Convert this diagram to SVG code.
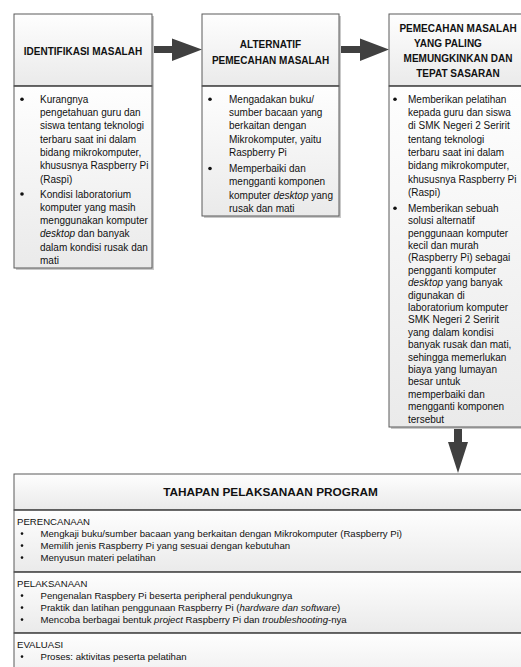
<svg xmlns="http://www.w3.org/2000/svg" width="521" height="667" viewBox="0 0 521 667">
<defs>
<linearGradient id="g" x1="0" y1="0" x2="0" y2="1">
<stop offset="0" stop-color="#fefefe"/>
<stop offset="1" stop-color="#eaeaea"/>
</linearGradient>
<style>
.sh{fill:#c9c9c9}
.bx{fill:url(#g);stroke:#5a5a5a;stroke-width:1}
.dv{stroke:#555;stroke-width:1.5}
.hd{font-family:"Liberation Sans",Arial,sans-serif;font-weight:bold;font-size:10px;fill:#111;text-anchor:middle}
.tx{font-family:"Liberation Sans",Arial,sans-serif;font-size:10px;fill:#111}
.st{font-family:"Liberation Sans",Arial,sans-serif;font-size:9.6px;fill:#111}
.it{font-style:italic}
.bl{fill:#111}
.ar{fill:#404040}
</style>
</defs>
<rect width="521" height="667" fill="#fff"/>

<g id="connectors">
<polygon class="ar" points="152,46 172,46 172,38.5 202,49.5 172,61 172,53 152,53"/>
<polygon class="ar" points="339,46 360,46 360,38.5 389,49.5 360,61 360,53 339,53"/>
<polygon class="ar" points="454,428 462,428 462,442 468,442 458,473 448,442 454,442"/>
</g>

<g id="identifikasi">
<rect class="sh" x="16" y="16" width="138" height="254"/>
<rect class="bx" x="14" y="14" width="138" height="72"/>
<rect class="bx" x="14" y="86" width="138" height="182"/>
<line class="dv" x1="14" y1="86" x2="152" y2="86"/>
<text class="hd" x="83" y="54.5">IDENTIFIKASI MASALAH</text>
<circle class="bl" cx="22" cy="99.3" r="1.8"/>
<circle class="bl" cx="22" cy="194" r="1.8"/>
<text class="tx">
<tspan x="40" y="102.8">Kurangnya</tspan>
<tspan x="40" y="116.1">pengetahuan guru dan</tspan>
<tspan x="40" y="129.4">siswa tentang teknologi</tspan>
<tspan x="40" y="142.7">terbaru saat ini dalam</tspan>
<tspan x="40" y="156">bidang mikrokomputer,</tspan>
<tspan x="40" y="169.3">khususnya Raspberry Pi</tspan>
<tspan x="40" y="182.6">(Raspi)</tspan>
<tspan x="40" y="197.5">Kondisi laboratorium</tspan>
<tspan x="40" y="210.8">komputer yang masih</tspan>
<tspan x="40" y="224.1">menggunakan komputer</tspan>
<tspan x="40" y="237.4" class="it">desktop</tspan><tspan> dan banyak</tspan>
<tspan x="40" y="250.7">dalam kondisi rusak dan</tspan>
<tspan x="40" y="264">mati</tspan>
</text>
</g>

<g id="alternatif">
<rect class="sh" x="204" y="16" width="137" height="202"/>
<rect class="bx" x="202" y="14" width="137" height="72"/>
<rect class="bx" x="202" y="86" width="137" height="130"/>
<line class="dv" x1="202" y1="86" x2="339" y2="86"/>
<text class="hd" x="270.5" y="47.5">ALTERNATIF</text>
<text class="hd" x="270.5" y="63.5">PEMECAHAN MASALAH</text>
<circle class="bl" cx="210" cy="99.3" r="1.8"/>
<circle class="bl" cx="210" cy="168.5" r="1.8"/>
<text class="tx">
<tspan x="229" y="102.8">Mengadakan buku/</tspan>
<tspan x="229" y="116.1">sumber bacaan yang</tspan>
<tspan x="229" y="129.4">berkaitan dengan</tspan>
<tspan x="229" y="142.7">Mikrokomputer, yaitu</tspan>
<tspan x="229" y="156">Raspberry Pi</tspan>
<tspan x="229" y="172">Memperbaiki dan</tspan>
<tspan x="229" y="185.3">mengganti komponen</tspan>
<tspan x="229" y="198.6">komputer </tspan><tspan class="it">desktop</tspan><tspan> yang</tspan>
<tspan x="229" y="211.9">rusak dan mati</tspan>
</text>
</g>

<g id="pemecahan">
<rect class="sh" x="391" y="16" width="138" height="413"/>
<rect class="bx" x="389" y="14" width="138" height="72"/>
<rect class="bx" x="389" y="86" width="138" height="341"/>
<line class="dv" x1="389" y1="86" x2="527" y2="86"/>
<text class="hd" x="458" y="32">PEMECAHAN MASALAH</text>
<text class="hd" x="448" y="47">YANG PALING</text>
<text class="hd" x="458" y="62">MEMUNGKINKAN DAN</text>
<text class="hd" x="458" y="77">TEPAT SASARAN</text>
<circle class="bl" cx="395" cy="99.3" r="1.8"/>
<circle class="bl" cx="395" cy="208.3" r="1.8"/>
<text class="tx">
<tspan x="408" y="102.8">Memberikan pelatihan</tspan>
<tspan x="408" y="116.1">kepada guru dan siswa</tspan>
<tspan x="408" y="129.4">di SMK Negeri 2 Seririt</tspan>
<tspan x="408" y="142.7">tentang teknologi</tspan>
<tspan x="408" y="156">terbaru saat ini dalam</tspan>
<tspan x="408" y="169.3">bidang mikrokomputer,</tspan>
<tspan x="408" y="182.6">khususnya Raspberry Pi</tspan>
<tspan x="408" y="195.9">(Raspi)</tspan>
<tspan x="408" y="211.8">Memberikan sebuah</tspan>
<tspan x="408" y="224.2">solusi alternatif</tspan>
<tspan x="408" y="236.6">penggunaan komputer</tspan>
<tspan x="408" y="249">kecil dan murah</tspan>
<tspan x="408" y="261.4">(Raspberry Pi) sebagai</tspan>
<tspan x="408" y="273.8">pengganti komputer</tspan>
<tspan x="408" y="286.2" class="it">desktop</tspan><tspan> yang banyak</tspan>
<tspan x="408" y="298.6">digunakan di</tspan>
<tspan x="408" y="311">laboratorium komputer</tspan>
<tspan x="408" y="323.4">SMK Negeri 2 Seririt</tspan>
<tspan x="408" y="335.8">yang dalam kondisi</tspan>
<tspan x="408" y="348.2">banyak rusak dan mati,</tspan>
<tspan x="408" y="360.6">sehingga memerlukan</tspan>
<tspan x="408" y="373">biaya yang lumayan</tspan>
<tspan x="408" y="385.4">besar untuk</tspan>
<tspan x="408" y="397.8">memperbaiki dan</tspan>
<tspan x="408" y="410.2">mengganti komponen</tspan>
<tspan x="408" y="422.6">tersebut</tspan>
</text>
</g>

<g id="tahapan">
<rect class="sh" x="16" y="476" width="520" height="200"/>
<rect class="bx" x="14" y="474" width="520" height="36"/>
<rect class="bx" x="14" y="510" width="520" height="62"/>
<rect class="bx" x="14" y="572" width="520" height="61"/>
<rect class="bx" x="14" y="633" width="520" height="60"/>
<line class="dv" x1="14" y1="510" x2="534" y2="510"/>
<line class="dv" x1="14" y1="572" x2="534" y2="572"/>
<line class="dv" x1="14" y1="633" x2="534" y2="633"/>
<text class="hd" x="270.5" y="496" style="font-size:11.8px">TAHAPAN PELAKSANAAN PROGRAM</text>
<text class="st" x="17" y="525">PERENCANAAN</text>
<circle class="bl" cx="22" cy="533.6" r="1.3"/>
<circle class="bl" cx="22" cy="545.6" r="1.3"/>
<circle class="bl" cx="22" cy="557.6" r="1.3"/>
<text class="st">
<tspan x="40.5" y="537">Mengkaji buku/sumber bacaan yang berkaitan dengan Mikrokomputer (Raspberry Pi)</tspan>
<tspan x="40.5" y="549">Memilih jenis Raspberry Pi yang sesuai dengan kebutuhan</tspan>
<tspan x="40.5" y="561">Menyusun materi pelatihan</tspan>
</text>
<text class="st" x="17" y="587">PELAKSANAAN</text>
<circle class="bl" cx="22" cy="595.6" r="1.3"/>
<circle class="bl" cx="22" cy="607.6" r="1.3"/>
<circle class="bl" cx="22" cy="619.6" r="1.3"/>
<text class="st">
<tspan x="40.5" y="599">Pengenalan Raspbery Pi beserta peripheral pendukungnya</tspan>
<tspan x="40.5" y="611">Praktik dan latihan penggunaan Raspberry Pi (</tspan><tspan class="it">hardware dan software</tspan><tspan>)</tspan>
<tspan x="40.5" y="623">Mencoba berbagai bentuk </tspan><tspan class="it">project</tspan><tspan> Raspberry Pi dan </tspan><tspan class="it">troubleshooting</tspan><tspan>-nya</tspan>
</text>
<text class="st" x="17" y="648">EVALUASI</text>
<circle class="bl" cx="22" cy="656.6" r="1.3"/>
<text class="st" x="40.5" y="660">Proses: aktivitas peserta pelatihan</text>
</g>
</svg>
